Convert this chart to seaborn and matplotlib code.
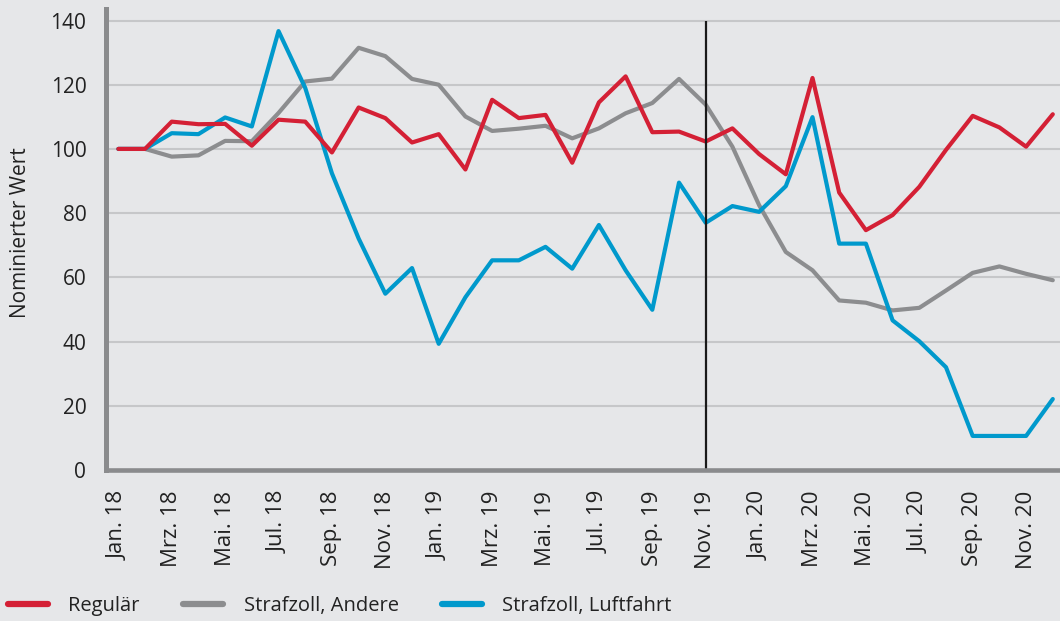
import pandas as pd
import numpy as np
import matplotlib
matplotlib.use("Agg")
import matplotlib.pyplot as plt
import seaborn as sns
from matplotlib.lines import Line2D

# month labels (only every 2nd month is labelled)
months = [f"{m}. {y}" for y in ["18", "19", "20"]
          for m in ["Jan", "Feb", "Mrz", "Apr", "Mai", "Jun",
                    "Jul", "Aug", "Sep", "Okt", "Nov", "Dez"]]
tick_labels = months[::2]

regulaer = [100, 100, 108.5, 107.7, 107.8, 101.0, 109.1, 108.5, 98.9, 112.9, 109.6, 102.0,
            104.6, 93.6, 115.3, 109.6, 110.6, 95.7, 114.5, 122.6, 105.2, 105.4, 102.3, 106.4,
            98.4, 92.1, 122.1, 86.4, 74.7, 79.4, 88.2, 99.7, 110.3, 106.7, 100.7, 110.8]
andere = [100, 100, 97.6, 98.0, 102.5, 102.4, 111.2, 121.0, 121.9, 131.5, 128.9, 121.8,
          120.0, 110.1, 105.6, 106.3, 107.2, 103.3, 106.4, 111.1, 114.3, 121.8, 113.8, 100.7,
          82.5, 67.9, 62.2, 52.8, 52.1, 49.7, 50.5, 55.9, 61.4, 63.4, 61.1, 59.1]
luftfahrt = [100, 100, 104.9, 104.6, 109.8, 107.0, 136.7, 119.0, 92.4, 72.1, 54.9, 62.9,
             39.3, 53.8, 65.3, 65.3, 69.5, 62.7, 76.3, 62.2, 49.9, 89.5, 77.0, 82.2,
             80.4, 88.4, 109.9, 70.5, 70.5, 46.6, 40.1, 32.0, 10.6, 10.6, 10.6, 22.1]

series_names = ["Regulär", "Strafzoll, Andere", "Strafzoll, Luftfahrt"]
colors = {"Regulär": "#d42035", "Strafzoll, Andere": "#8c8d8f", "Strafzoll, Luftfahrt": "#0099cc"}
marker_month = "Nov. 19"

df = pd.DataFrame({"Monat": range(len(months)),
                   "Regulär": regulaer,
                   "Strafzoll, Andere": andere,
                   "Strafzoll, Luftfahrt": luftfahrt})
long_df = df.melt(id_vars="Monat", var_name="Serie", value_name="Wert")

bg = "#e6e7e9"
sns.set_theme(style="white")
plt.rcParams["font.family"] = ["Open Sans", "DejaVu Sans"]

fig = plt.figure(figsize=(10.6, 6.21), dpi=100, facecolor=bg)
ax = fig.add_axes([0.0998, 0.2432, 0.9002, 0.7424])
ax.set_facecolor(bg)

# draw order: gray, blue, red on top
for name in ["Strafzoll, Andere", "Strafzoll, Luftfahrt", "Regulär"]:
    sns.lineplot(data=long_df[long_df["Serie"] == name], x="Monat", y="Wert",
                 color=colors[name], linewidth=3, ax=ax, legend=False,
                 solid_capstyle="round", zorder=3)

ax.vlines(months.index(marker_month), 0, 140, color="#1a1a1a", linewidth=1.6, zorder=4)

ax.set_ylim(0, 143.6)
ax.set_xlim(-0.47, 35.27)
ax.set_yticks(range(0, 141, 20))
ax.set_xticks(range(0, len(months), 2))
ax.set_xticklabels(tick_labels, rotation=90, ha="center", va="top")
ax.tick_params(axis="both", length=0, labelcolor="#222222")
ax.tick_params(axis="y", pad=14, labelsize=15)
ax.tick_params(axis="x", pad=15, labelsize=16)

ax.yaxis.grid(True, color="#c6c7c9", linewidth=1.5)
ax.set_axisbelow(True)
for s in ["top", "right"]:
    ax.spines[s].set_visible(False)
ax.spines["left"].set_color("#8a8b8d")
ax.spines["left"].set_linewidth(3.6)
ax.spines["bottom"].set_color("#8a8b8d")
ax.spines["bottom"].set_linewidth(3.3)
ax.spines["left"].set_zorder(5)
ax.spines["bottom"].set_zorder(5)
ax.set_xlabel("")
ax.set_ylabel("")

fig.text(21 / 1060, 1 - 233 / 621, "Nominierter Wert", rotation=90,
         ha="center", va="center", fontsize=15, color="#222222")

handles = [Line2D([0], [0], color=colors[n], linewidth=4.5, solid_capstyle="round")
           for n in series_names]
fig.legend(handles, series_names, loc="center left",
           bbox_to_anchor=(8 / 1060, 15 / 621), ncol=3, frameon=False,
           fontsize=14.5, handlelength=2.0, handletextpad=1.0, columnspacing=2.15,
           borderpad=0, borderaxespad=0, labelcolor="#222222")

fig.savefig("out.png", dpi=100, facecolor=bg)
